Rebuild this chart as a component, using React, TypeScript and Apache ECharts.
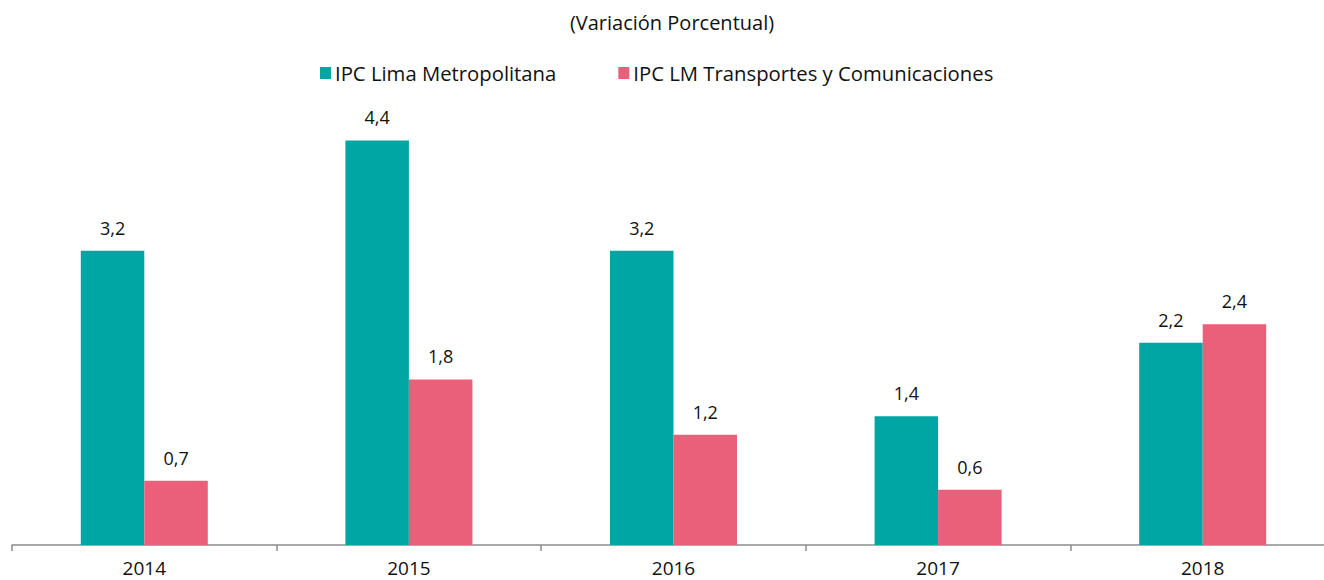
import React, { useEffect, useRef } from "react";
import * as echarts from "echarts";

const categories = ["2014", "2015", "2016", "2017", "2018"];
const ipcLima = [3.2, 4.4, 3.2, 1.4, 2.2];
const ipcTransportes = [0.7, 1.8, 1.2, 0.6, 2.4];
const seriesNames = ["IPC Lima Metropolitana", "IPC LM Transportes y Comunicaciones"];
const titleText = "(Variación Porcentual)";

const font = "'Open Sans', sans-serif";

export default function App() {
  const ref = useRef<HTMLDivElement>(null);
  useEffect(() => {
    const chart = echarts.init(ref.current!, null, { renderer: "svg" });
    const fmt = (p: any) => String(p.value).replace(".", ",");
    chart.setOption({
      animation: false,
      title: {
        text: titleText,
        left: 667,
        textAlign: "center",
        top: 7,
        textStyle: { fontFamily: font, fontSize: 20, fontWeight: "normal", color: "#111" },
      },
      legend: {
        top: 58,
        left: 315,
        itemWidth: 11,
        itemHeight: 12,
        itemGap: 62,
        icon: "rect",
        textStyle: { fontFamily: font, fontSize: 20.3, color: "#111", padding: [0, 0, 0, -1] },
        data: seriesNames,
      },
      grid: { left: 12, right: 0, top: 88, bottom: 35, containLabel: false },
      xAxis: {
        type: "category",
        data: categories,
        axisLine: { lineStyle: { color: "#8c8c8c", width: 1.5 } },
        axisTick: { show: true, length: 6, lineStyle: { color: "#8c8c8c", width: 1.5 } },
        axisLabel: { fontFamily: font, fontSize: 19, color: "#111", margin: 13 },
      },
      yAxis: { type: "value", min: 0, max: 4.97, show: false, splitLine: { show: false } },
      series: [
        {
          name: seriesNames[0],
          type: "bar",
          data: ipcLima,
          barWidth: 63.5,
          barGap: "0%",
          itemStyle: { color: "#00A6A3" },
          label: { show: true, position: "top", distance: 14, formatter: fmt, fontFamily: font, fontSize: 18, color: "#111" },
        },
        {
          name: seriesNames[1],
          type: "bar",
          data: ipcTransportes,
          barWidth: 63.5,
          barGap: "0%",
          itemStyle: { color: "#EA5F7A" },
          label: { show: true, position: "top", distance: 14, formatter: fmt, fontFamily: font, fontSize: 18, color: "#111" },
        },
      ],
    });
    return () => chart.dispose();
  }, []);
  return (
    <div style={{ position: "absolute", left: 0, top: 0, width: 1324, height: 580, overflow: "hidden" }}>
      <div ref={ref} style={{ width: 1335, height: 580 }} />
    </div>
  );
}
